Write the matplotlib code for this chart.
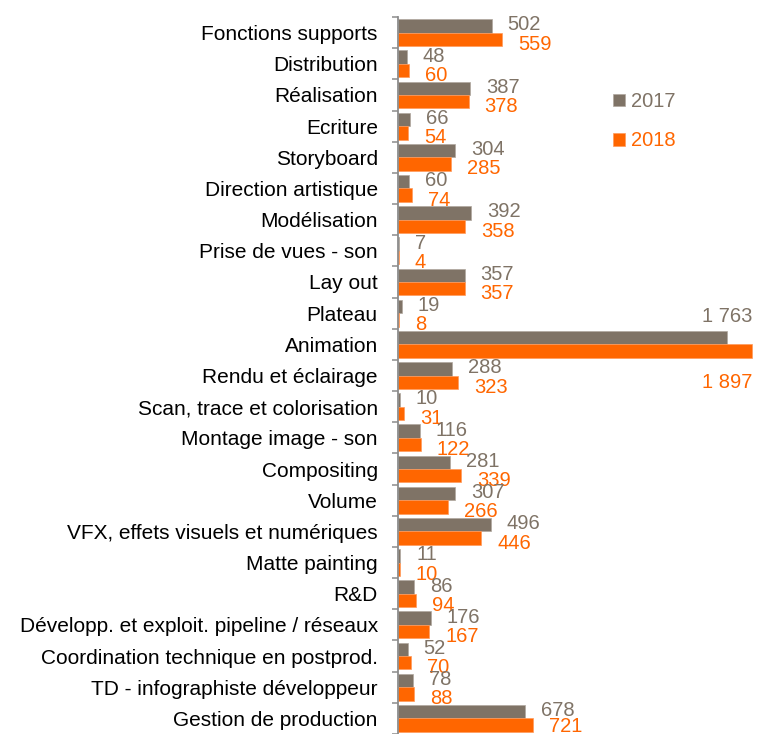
import matplotlib.pyplot as plt

categories = [
    "Fonctions supports", "Distribution", "Réalisation", "Ecriture", "Storyboard",
    "Direction artistique", "Modélisation", "Prise de vues - son", "Lay out", "Plateau",
    "Animation", "Rendu et éclairage", "Scan, trace et colorisation", "Montage image - son",
    "Compositing", "Volume", "VFX, effets visuels et numériques", "Matte painting", "R&D",
    "Développ. et exploit. pipeline / réseaux", "Coordination technique en postprod.",
    "TD - infographiste développeur", "Gestion de production",
]
values_2017 = [502, 48, 387, 66, 304, 60, 392, 7, 357, 19, 1763, 288, 10, 116,
               281, 307, 496, 11, 86, 176, 52, 78, 678]
values_2018 = [559, 60, 378, 54, 285, 74, 358, 4, 357, 8, 1897, 323, 31, 122,
               339, 266, 446, 10, 94, 167, 70, 88, 721]
series_labels = ["2017", "2018"]

GRAY = "#7f7366"
ORANGE = "#ff6600"
AXIS_GRAY = "#8c8c8c"

plt.rcParams['font.family'] = ['Liberation Sans', 'DejaVu Sans']


def fmt(v):
    # French style thousands separator
    return f"{v:,}".replace(",", " ")


fig = plt.figure(figsize=(7.57, 7.34), dpi=100)
ax = fig.add_axes([398 / 757, 0.0, 1 - 398 / 757, (734 - 17) / 734])

n = len(categories)
ypos = list(range(n))
bar_h = 0.43

ax.barh([y - bar_h / 2 for y in ypos], values_2017, height=bar_h,
        color=GRAY, edgecolor="#b0a89f", linewidth=0.5, label=series_labels[0])
ax.barh([y + bar_h / 2 for y in ypos], values_2018, height=bar_h,
        color=ORANGE, edgecolor="#ff9a5c", linewidth=0.5, label=series_labels[1])

vmax = max(values_2018 + values_2017)
ax.set_xlim(0, vmax * 359 / 354)
ax.set_ylim(n - 0.5, -0.5)

# value labels
for y, v17, v18 in zip(ypos, values_2017, values_2018):
    if max(v17, v18) == vmax:
        # the biggest row has its labels pulled back inside the plot
        ax.annotate(fmt(v17), (vmax, y - bar_h / 2), xytext=(0, 21),
                    textcoords="offset pixels", ha="right", va="center",
                    color=GRAY, fontsize=14.5)
        ax.annotate(fmt(v18), (vmax, y + bar_h / 2), xytext=(0, -31),
                    textcoords="offset pixels", ha="right", va="center",
                    color=ORANGE, fontsize=14.5)
        continue
    dy18 = -1 if y == n - 1 else -5  # last row stays inside the image
    ax.annotate(fmt(v17), (v17, y - bar_h / 2), xytext=(16, 1),
                textcoords="offset pixels", ha="left", va="center",
                color=GRAY, fontsize=14.5)
    ax.annotate(fmt(v18), (v18, y + bar_h / 2), xytext=(16, dy18),
                textcoords="offset pixels", ha="left", va="center",
                color=ORANGE, fontsize=14.5)

ax.set_yticks(ypos)
ax.set_yticklabels(categories, fontsize=15)
ax.set_yticks([y - 0.5 for y in range(n + 1)], minor=True)
ax.tick_params(axis="y", which="major", length=0, pad=14.5)
ax.tick_params(axis="y", which="minor", length=4, width=1.1, color=AXIS_GRAY)
ax.set_xticks([])

for side in ["top", "right", "bottom"]:
    ax.spines[side].set_visible(False)
ax.spines["left"].set_color(AXIS_GRAY)
ax.spines["left"].set_linewidth(1.3)

ax.legend(loc="upper left", bbox_to_anchor=(603 / 757, 1 - 82 / 734),
          bbox_transform=fig.transFigure, frameon=False, fontsize=14.5,
          handlelength=0.6, handleheight=0.6, handletextpad=0.3,
          labelspacing=1.0, borderpad=0, labelcolor=[GRAY, ORANGE])

fig.savefig("out.png", dpi=100)
